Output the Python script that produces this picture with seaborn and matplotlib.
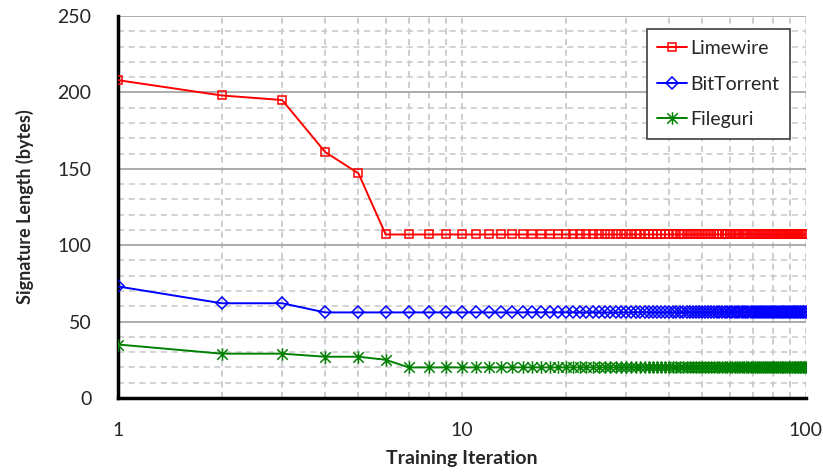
import numpy as np
import pandas as pd
import matplotlib
matplotlib.use("Agg")
import matplotlib.pyplot as plt
from matplotlib.path import Path
import seaborn as sns
from matplotlib.ticker import LogLocator, FixedLocator, MultipleLocator, NullFormatter

iterations = list(range(1, 101))

limewire = [208, 198, 195, 161, 147, 107, 107, 107, 107, 107,
            107, 107, 107, 107, 107, 107, 107, 107, 107, 107,
            107, 107, 107, 107, 107, 107, 107, 107, 107, 107,
            107, 107, 107, 107, 107, 107, 107, 107, 107, 107,
            107, 107, 107, 107, 107, 107, 107, 107, 107, 107,
            107, 107, 107, 107, 107, 107, 107, 107, 107, 107,
            107, 107, 107, 107, 107, 107, 107, 107, 107, 107,
            107, 107, 107, 107, 107, 107, 107, 107, 107, 107,
            107, 107, 107, 107, 107, 107, 107, 107, 107, 107,
            107, 107, 107, 107, 107, 107, 107, 107, 107, 107]

bittorrent = [73, 62, 62, 56, 56, 56, 56, 56, 56, 56,
              56, 56, 56, 56, 56, 56, 56, 56, 56, 56,
              56, 56, 56, 56, 56, 56, 56, 56, 56, 56,
              56, 56, 56, 56, 56, 56, 56, 56, 56, 56,
              56, 56, 56, 56, 56, 56, 56, 56, 56, 56,
              56, 56, 56, 56, 56, 56, 56, 56, 56, 56,
              56, 56, 56, 56, 56, 56, 56, 56, 56, 56,
              56, 56, 56, 56, 56, 56, 56, 56, 56, 56,
              56, 56, 56, 56, 56, 56, 56, 56, 56, 56,
              56, 56, 56, 56, 56, 56, 56, 56, 56, 56]

fileguri = [35, 29, 29, 27, 27, 25, 20, 20, 20, 20,
            20, 20, 20, 20, 20, 20, 20, 20, 20, 20,
            20, 20, 20, 20, 20, 20, 20, 20, 20, 20,
            20, 20, 20, 20, 20, 20, 20, 20, 20, 20,
            20, 20, 20, 20, 20, 20, 20, 20, 20, 20,
            20, 20, 20, 20, 20, 20, 20, 20, 20, 20,
            20, 20, 20, 20, 20, 20, 20, 20, 20, 20,
            20, 20, 20, 20, 20, 20, 20, 20, 20, 20,
            20, 20, 20, 20, 20, 20, 20, 20, 20, 20,
            20, 20, 20, 20, 20, 20, 20, 20, 20, 20]

series_names = ["Limewire", "BitTorrent", "Fileguri"]
y_ticks = [0, 50, 100, 150, 200, 250]
x_ticks = [1, 10, 100]
x_tick_labels = ["1", "10", "100"]

sns.set_style("white")
plt.rcParams['font.family'] = ['Lato', 'DejaVu Sans']

# Excel-style star marker: X plus a vertical bar
star = Path([(-1, -1), (1, 1), (-1, 1), (1, -1), (0, -1.2), (0, 1.2)],
            [Path.MOVETO, Path.LINETO, Path.MOVETO, Path.LINETO, Path.MOVETO, Path.LINETO])

fig = plt.figure(figsize=(8.23, 4.76), dpi=100)
ax = fig.add_axes([0.1434, 0.1639, 0.9793 - 0.1434, 0.9664 - 0.1639])

styles = [
    dict(color="#FF0000", marker="s", ms=6),
    dict(color="#0000FF", marker="D", ms=6),
    dict(color="#008000", marker=star, ms=9),
]
data = [limewire, bittorrent, fileguri]

for name, vals, st in zip(series_names, data, styles):
    sns.lineplot(x=iterations, y=vals, ax=ax, color=st["color"], lw=1.4,
                 marker=st["marker"], markersize=st["ms"],
                 markerfacecolor="none", markeredgecolor=st["color"],
                 markeredgewidth=1.1, label=name, zorder=3)

ax.set_xscale("log")
ax.set_xlim(1, 100)
ax.set_ylim(0, 250)

ax.xaxis.set_major_locator(FixedLocator(x_ticks))
ax.set_xticklabels(x_tick_labels)
ax.xaxis.set_minor_locator(LogLocator(base=10, subs=np.arange(2, 10)))
ax.xaxis.set_minor_formatter(NullFormatter())
ax.yaxis.set_major_locator(FixedLocator(y_ticks))
ax.yaxis.set_minor_locator(MultipleLocator(10))

ax.grid(False)
ax.grid(axis="y", which="major", color="#A6A6A6", lw=1.3, ls="-", zorder=0)
ax.grid(axis="y", which="minor", color="#C8C8C8", lw=1.1, ls=(0, (4, 3)), zorder=0)
ax.grid(axis="x", which="both", color="#C0C0C0", lw=1.1, ls=(0, (4, 3)), zorder=0)
ax.set_axisbelow(True)

for s in ["top", "right"]:
    ax.spines[s].set_visible(False)
for s in ["left", "bottom"]:
    ax.spines[s].set_color("black")
    ax.spines[s].set_linewidth(2.5)

ax.tick_params(axis="both", which="major", direction="out", length=6, width=1.5,
               color="black", labelsize=14, pad=6)
ax.tick_params(axis="y", which="major", pad=13)
ax.tick_params(axis="x", which="major", pad=11)
ax.tick_params(axis="both", which="minor", length=0)

ax.set_xlabel("Training Iteration", fontsize=14, fontweight="bold", labelpad=8)
ax.set_ylabel("Signature Length (bytes)", fontsize=13, fontweight="bold", labelpad=17)

leg = ax.legend(loc="upper right", bbox_to_anchor=(0.977, 0.965), fontsize=14,
                frameon=True, fancybox=False, handlelength=1.5, handletextpad=0.2,
                borderpad=0.55, labelspacing=0.95, borderaxespad=0)
leg.get_frame().set_edgecolor("#404040")
leg.get_frame().set_linewidth(1.2)
leg.get_frame().set_alpha(1)

fig.savefig("out.png", dpi=100)
